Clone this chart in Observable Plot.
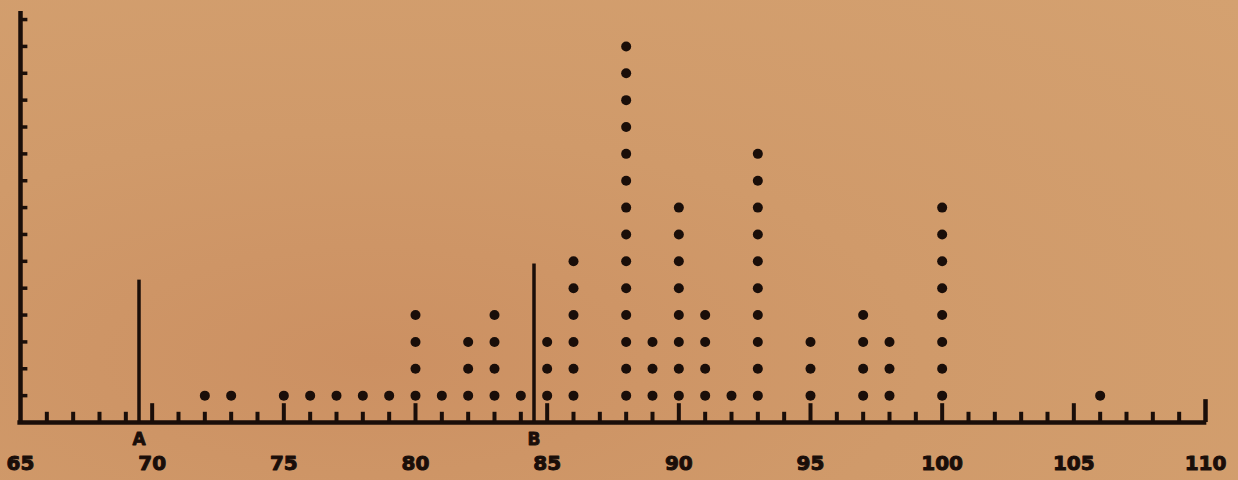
<!DOCTYPE html>
<html>
<head>
<meta charset="utf-8">
<script src="https://cdn.jsdelivr.net/npm/d3@7"></script>
<script src="https://cdn.jsdelivr.net/npm/@observablehq/plot@0.6"></script>
<style>
  html, body { margin: 0; padding: 0; }
  body {
    width: 1238px; height: 480px; overflow: hidden;
    background: radial-gradient(ellipse at 30% 75%, #cc9062 0%, #d09a6a 45%, #d4a170 100%);
  }
  #chart svg { display: block; background: transparent; }
</style>
</head>
<body>
<div id="chart"></div>
<script>
// Values (x class) and number of stacked dots in each
const dotValues = [72, 73, 75, 76, 77, 78, 79, 80, 81, 82, 83, 84, 85, 86, 88, 89, 90, 91, 92, 93, 95, 97, 98, 100, 106];
const dotCounts = [ 1,  1,  1,  1,  1,  1,  1,  4,  1,  3,  4,  1,  3,  6, 14,  3,  8,  4,  1, 10,  3,  4,  3,   8,   1];

// Marker lines A and B
const markerLabels = ["A", "B"];
const markerX = [69.5, 84.5];
const markerHeights = [5.3, 5.9];

// Axis ticks and labels
const xTickLabels = [65, 70, 75, 80, 85, 90, 95, 100, 105, 110];
const xMinorTicks = d3.range(66, 110);
const yTicks = d3.range(1, 16);

const ink = "#1a0e09";

const dots = [];
dotValues.forEach((v, i) => {
  for (let k = 1; k <= dotCounts[i]; k++) dots.push({x: v, y: k});
});
const markers = markerLabels.map((l, i) => ({label: l, x: markerX[i], h: markerHeights[i]}));
const minor = xMinorTicks.filter(v => v % 5 !== 0).map(v => ({x: v, h: 0.38}));
const major = xMinorTicks.filter(v => v % 5 === 0).map(v => ({x: v, h: 0.7}));
const endTick = [{x: 110, h: 0.85}];

const chart = Plot.plot({
  width: 1238,
  height: 480,
  marginLeft: 20,
  marginRight: 33,
  marginTop: 11,
  marginBottom: 58,
  x: {domain: [65, 110], axis: null},
  y: {domain: [0, 15.3], axis: null},
  style: {background: "transparent", fontFamily: "DejaVu Sans"},
  marks: [
    // x axis line and y axis line
    Plot.ruleY([0], {x1: 64.9, x2: 110.05, stroke: ink, strokeWidth: 4.5}),
    Plot.ruleX([65], {y1: -0.05, y2: 15.3, stroke: ink, strokeWidth: 4.5}),
    // x ticks (drawn upward)
    Plot.ruleX(minor, {x: "x", y1: 0, y2: "h", stroke: ink, strokeWidth: 4}),
    Plot.ruleX(major, {x: "x", y1: 0, y2: "h", stroke: ink, strokeWidth: 4}),
    Plot.ruleX(endTick, {x: "x", y1: 0, y2: "h", stroke: ink, strokeWidth: 4.5}),
    // y ticks (drawn rightward)
    Plot.ruleY(yTicks, {x1: 65, x2: 65.28, stroke: ink, strokeWidth: 3.5}),
    // A/B marker lines
    Plot.ruleX(markers, {x: "x", y1: 0, y2: "h", stroke: ink, strokeWidth: 3.5}),
    Plot.text(markers, {x: "x", y: -0.62, text: "label", fill: ink, stroke: ink, strokeWidth: 0.8, fontSize: 17, fontWeight: "bold"}),
    // stacked dots
    Plot.dot(dots, {x: "x", y: "y", r: 5, fill: ink, stroke: "none"}),
    // x tick labels
    Plot.text(xTickLabels, {x: d => d, y: -1.52, text: d => String(d), fill: ink, stroke: ink, strokeWidth: 1, fontSize: 20, fontWeight: "bold"})
  ]
});
document.getElementById("chart").appendChild(chart);
</script>
</body>
</html>
